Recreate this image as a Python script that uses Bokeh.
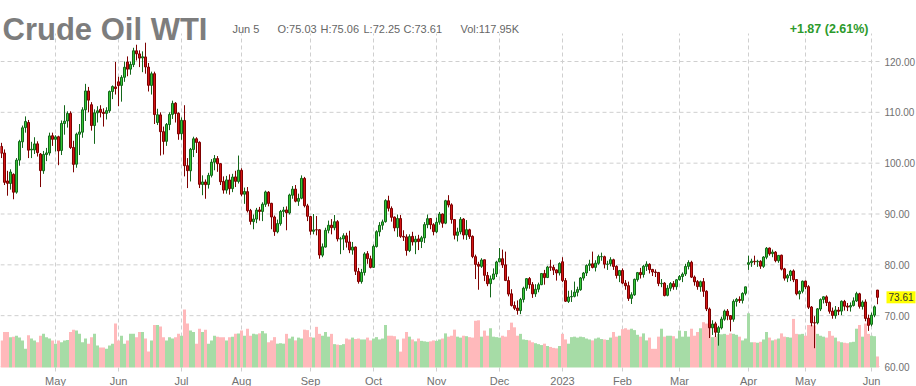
import pandas as pd
from bokeh.plotting import figure
from bokeh.models import Range1d, Label, ColumnDataSource
from bokeh.embed import file_html
from bokeh.resources import INLINE

# ---------------- data ----------------
holidays = ["2022-04-15", "2022-05-30", "2022-06-20", "2022-07-04", "2022-09-05",
            "2022-11-24", "2022-12-26", "2023-01-02", "2023-01-16", "2023-02-20",
            "2023-04-07", "2023-05-29"]

opens = [
    103.3, 102.0, 96.5, 96.0, 97.8, 94.3, 100.6, 104.2, 107.0, 108.0, 102.6, 102.6, 103.8, 101.8, 98.5, 101.7, 102.0, 105.4,
    104.7, 105.2, 102.5, 107.8, 108.3, 109.8, 103.1, 99.8, 105.7, 106.1, 110.5, 114.2, 111.5, 107.4, 109.9, 110.6, 110.0, 109.8, 110.3, 114.1, 115.0,
    116.0, 115.3, 116.9, 119.9, 118.5, 119.4, 122.1, 121.5, 120.7, 120.9, 118.9, 115.3, 117.6, 108.0, 109.5, 106.2, 104.3, 107.6, 109.6, 111.8, 109.8,
    105.8, 108.4, 99.5, 98.5, 102.7, 104.8, 104.1, 95.8, 96.3, 95.8, 97.6, 100.2, 100.9, 99.9, 96.4, 94.7, 96.7, 95.0, 97.3, 96.4,
    98.6, 93.9, 94.4, 90.7, 88.5, 89.0, 90.8, 90.5, 91.9, 94.3, 92.1, 89.4, 86.5, 88.1, 90.5, 90.8, 90.2, 93.7, 94.9, 92.5, 93.1, 97.0, 91.6,
    89.5, 86.6, 86.9, 86.9, 81.9, 83.5, 86.8, 87.8, 87.3, 88.5, 85.1, 85.1, 85.7, 84.5, 82.9, 83.5, 78.7, 76.7, 78.5, 82.2, 81.2,
    79.5, 83.6, 86.5, 87.8, 88.5, 92.6, 91.1, 89.4, 87.3, 89.1, 85.6, 85.5, 82.8, 85.6, 84.5, 85.1, 84.6, 85.3, 87.9, 89.1, 87.9,
    86.5, 88.4, 90.0, 88.2, 92.6, 91.8, 88.9, 85.8, 86.5, 89.0, 85.9, 86.9, 85.6, 81.6, 80.1, 79.7, 81.0, 77.9, 76.3, 77.2, 78.2,
    80.6, 81.2, 80.0, 76.9, 74.3, 72.0, 71.5, 71.0, 73.2, 75.4, 77.3, 76.1, 74.3, 75.2, 76.1, 78.3, 77.5, 79.6, 79.5, 79.0, 78.4,
    80.6, 76.9, 72.8, 73.7, 73.8, 74.6, 75.1, 77.4, 78.4, 79.9, 80.2, 79.5, 80.3, 81.6, 81.6, 80.1, 80.2, 81.0, 79.7, 77.9,
    78.9, 76.4, 75.9, 73.4, 74.1, 77.1, 78.5, 78.1, 79.7, 80.1, 79.1, 78.6, 78.5, 76.3, 76.4, 74.0, 75.4, 76.3, 75.7,
    77.1, 77.7, 78.2, 79.7, 80.5, 77.6, 76.7, 75.7, 76.7, 74.8, 71.3, 67.6, 68.4, 66.7, 67.6, 69.3, 70.9, 70.0, 69.3, 72.8, 73.2, 73.0, 74.4,
    80.1, 80.4, 80.7, 80.6, 80.7, 79.7, 81.5, 83.3, 82.2, 82.5, 80.8, 81.9, 79.2, 77.4, 77.9, 78.8, 77.1, 74.3, 74.8,
    76.8, 75.7, 71.7, 68.6, 68.6, 71.3, 73.2, 73.7, 72.6, 70.9, 70.0, 71.1, 70.9, 72.8, 71.9, 71.7, 72.0, 72.9, 74.3, 71.8, 72.7, 69.5,
    68.3, 70.1, 75.03,
]

highs = [
    104.0, 102.7, 98.5, 98.8, 98.0, 101.0, 104.6, 107.4, 109.2, 108.5, 104.2, 105.1, 104.3, 102.0, 102.4, 103.0, 106.0, 106.0,
    105.5, 105.4, 108.4, 111.4, 110.2, 110.2, 104.4, 106.0, 107.7, 111.0, 115.6, 115.0, 112.0, 110.6, 111.2, 111.4, 110.8, 111.0, 114.3, 115.3, 119.9,
    117.0, 117.3, 120.0, 121.0, 120.0, 122.7, 123.3, 122.2, 122.0, 123.7, 119.7, 118.0, 118.0, 110.7, 110.0, 107.2, 107.9, 110.0, 112.3, 112.0, 110.0,
    109.0, 111.4, 101.0, 103.0, 105.2, 105.1, 104.3, 97.6, 96.8, 98.1, 100.8, 101.6, 101.4, 100.0, 97.4, 97.5, 97.8, 97.9, 98.5, 101.5,
    99.0, 95.2, 95.3, 91.0, 89.9, 91.2, 91.4, 92.3, 94.6, 94.5, 92.2, 89.7, 88.9, 90.8, 91.4, 91.5, 94.0, 95.5, 95.7, 94.0, 97.6, 97.3, 92.0,
    89.6, 90.0, 89.6, 87.0, 84.2, 87.3, 88.7, 89.0, 89.8, 88.8, 85.5, 86.2, 86.3, 86.7, 84.5, 83.6, 79.4, 79.2, 82.5, 82.7, 81.8,
    84.0, 86.8, 88.4, 88.9, 92.9, 93.6, 91.5, 89.5, 89.9, 89.8, 86.8, 86.0, 86.0, 86.5, 85.7, 85.9, 85.7, 88.4, 89.9, 89.2, 88.2,
    89.3, 90.4, 90.1, 92.8, 93.7, 92.1, 89.0, 87.3, 89.4, 89.2, 88.8, 87.1, 85.8, 82.0, 80.6, 81.3, 81.0, 78.6, 77.9, 79.3, 80.8,
    83.3, 83.0, 82.6, 77.7, 75.2, 72.8, 73.0, 73.5, 75.7, 77.4, 77.6, 76.6, 76.2, 76.5, 78.4, 79.0, 79.8, 81.0, 80.0, 79.1, 80.5,
    81.5, 77.4, 74.9, 75.0, 76.7, 75.7, 77.6, 78.6, 80.1, 81.0, 82.6, 80.9, 82.0, 82.4, 81.8, 80.8, 81.5, 81.2, 79.9, 79.0,
    79.3, 77.0, 76.7, 74.6, 77.3, 78.6, 79.4, 80.0, 80.7, 80.3, 79.2, 79.1, 78.6, 77.2, 76.6, 76.0, 76.6, 76.8, 77.2,
    78.0, 78.5, 80.2, 80.9, 80.8, 77.9, 77.0, 76.9, 77.4, 75.0, 71.6, 69.1, 68.8, 68.0, 69.8, 71.2, 71.3, 70.1, 73.2, 73.5, 73.8, 74.6, 75.7,
    81.8, 81.2, 81.8, 81.0, 80.9, 81.7, 83.5, 83.4, 83.0, 82.7, 81.9, 82.0, 79.4, 78.2, 79.0, 79.1, 77.2, 75.0, 76.9,
    76.9, 76.0, 71.9, 69.9, 71.5, 73.4, 73.8, 74.0, 72.8, 71.6, 71.9, 71.7, 73.0, 73.1, 72.5, 72.6, 73.6, 74.7, 74.5, 73.0, 73.2, 70.2,
    70.6, 72.0, 75.06,
]

lows = [
    101.0, 95.7, 93.6, 94.8, 92.9, 94.0, 99.5, 103.0, 106.0, 101.0, 101.0, 101.8, 101.3, 95.3, 97.9, 100.4, 101.5, 103.4,
    102.3, 99.6, 101.6, 105.6, 107.0, 102.8, 98.2, 99.1, 101.6, 105.0, 108.3, 110.0, 106.4, 103.8, 108.0, 109.0, 107.2, 108.6, 109.9, 112.6, 113.5,
    111.2, 112.1, 116.0, 117.1, 117.4, 118.9, 120.2, 118.9, 117.9, 117.6, 114.1, 113.5, 107.7, 107.5, 101.5, 101.7, 103.4, 106.5, 108.7, 108.0, 104.6,
    104.6, 97.4, 95.1, 96.4, 101.2, 102.0, 95.1, 93.7, 93.0, 95.0, 97.2, 98.6, 98.3, 95.7, 94.0, 94.0, 93.8, 94.3, 95.3, 96.0,
    93.5, 92.0, 90.3, 87.9, 87.0, 88.2, 88.7, 88.6, 91.4, 91.5, 87.0, 85.7, 86.2, 87.7, 89.4, 86.8, 89.9, 93.0, 92.3, 91.6, 92.9, 91.3, 88.6,
    85.9, 86.0, 85.8, 81.2, 81.5, 83.4, 86.2, 86.0, 86.8, 84.6, 82.1, 82.9, 83.4, 82.3, 82.0, 78.0, 76.3, 76.3, 77.9, 80.2, 79.3,
    79.4, 83.4, 85.6, 86.9, 88.3, 90.5, 88.5, 86.6, 85.5, 85.3, 84.7, 81.8, 82.5, 83.8, 82.1, 82.9, 83.3, 84.3, 87.2, 87.0, 85.8,
    86.2, 87.9, 87.3, 88.0, 91.3, 88.1, 85.0, 84.6, 86.0, 85.0, 84.9, 85.1, 81.3, 77.2, 75.1, 79.4, 76.8, 75.8, 73.6, 77.0, 77.6,
    80.5, 79.4, 76.8, 73.8, 71.8, 71.1, 70.2, 70.3, 72.6, 74.9, 75.3, 73.5, 73.7, 74.6, 76.0, 76.1, 77.4, 78.8, 78.0, 76.9, 77.9,
    76.6, 72.7, 72.5, 72.7, 73.6, 73.8, 74.9, 76.9, 77.8, 78.8, 79.3, 78.7, 80.0, 80.8, 79.3, 79.0, 79.7, 79.0, 77.3, 76.6,
    76.2, 75.1, 72.9, 72.3, 73.9, 76.7, 77.3, 77.5, 78.8, 78.3, 77.8, 77.6, 75.8, 75.6, 73.8, 73.8, 74.8, 75.1, 75.1,
    76.9, 76.6, 77.8, 79.1, 77.4, 75.9, 75.1, 74.7, 73.7, 70.9, 65.6, 66.2, 65.8, 64.1, 67.3, 69.0, 69.1, 66.9, 68.8, 71.8, 72.5, 72.4, 74.0,
    79.0, 79.6, 80.0, 79.6, 79.2, 79.4, 81.1, 81.8, 81.5, 80.5, 80.4, 78.9, 76.9, 76.6, 76.8, 76.6, 74.0, 73.2, 74.4,
    75.2, 71.3, 67.9, 63.6, 68.3, 70.9, 72.4, 71.9, 70.4, 69.4, 69.4, 70.1, 70.1, 71.0, 70.9, 70.8, 71.8, 72.7, 71.4, 71.2, 68.9, 67.0,
    67.9, 69.7, 72.25,
]

closes = [
    101.96, 96.23, 96.03, 98.26, 94.29, 100.60, 104.25, 106.95, 108.21, 102.56, 102.75, 103.79, 102.07, 98.54, 101.70, 102.02, 105.36, 104.69,
    105.17, 102.41, 107.81, 108.26, 109.77, 103.09, 99.76, 105.71, 106.13, 110.49, 114.20, 112.40, 107.40, 109.90, 110.30, 110.00, 109.77, 110.33, 114.09, 115.07, 114.67,
    115.26, 116.87, 118.87, 118.50, 119.41, 122.11, 121.51, 120.67, 120.93, 118.93, 115.31, 117.59, 109.56, 109.52, 106.19, 104.27, 107.62, 109.57, 111.76, 109.78, 105.76,
    108.43, 99.50, 98.53, 102.73, 104.79, 104.09, 95.84, 96.30, 95.78, 97.59, 100.20, 100.90, 99.90, 96.35, 94.70, 96.70, 94.98, 97.26, 96.42, 98.62,
    93.89, 94.42, 90.66, 88.54, 89.01, 90.76, 90.50, 91.93, 94.34, 92.09, 89.41, 86.53, 88.11, 90.50, 90.77, 90.23, 93.74, 94.89, 92.52, 93.06, 97.01, 91.64, 89.55,
    86.61, 86.87, 86.88, 81.94, 83.54, 86.79, 87.78, 87.31, 88.48, 85.10, 85.11, 85.73, 84.45, 82.94, 83.49, 78.74, 76.71, 78.50, 82.15, 81.23, 79.49,
    83.63, 86.52, 87.76, 88.45, 92.64, 91.13, 89.35, 87.27, 89.11, 85.61, 85.46, 82.82, 85.55, 84.51, 85.05, 84.58, 85.32, 87.91, 89.08, 87.90, 86.53,
    88.37, 90.00, 88.17, 92.61, 91.79, 88.91, 85.83, 86.47, 88.96, 85.87, 86.92, 85.59, 81.64, 80.08, 79.73, 80.95, 77.94, 76.28, 77.24, 78.20, 80.55,
    81.22, 79.98, 76.93, 74.25, 72.01, 71.46, 71.02, 73.17, 75.39, 77.28, 76.11, 74.29, 75.19, 76.09, 78.29, 77.49, 79.56, 79.53, 78.96, 78.40, 80.26,
    76.93, 72.84, 73.67, 73.77, 74.63, 75.12, 77.41, 78.39, 79.86, 80.18, 79.48, 80.33, 81.64, 81.62, 80.13, 80.15, 81.01, 79.68, 77.90, 78.87,
    76.41, 75.88, 73.39, 74.11, 77.14, 78.47, 78.06, 79.72, 80.14, 79.06, 78.59, 78.49, 76.34, 76.36, 73.95, 75.39, 76.32, 75.68, 77.05,
    77.69, 78.16, 79.68, 80.46, 77.58, 76.66, 75.72, 76.68, 74.80, 71.33, 67.61, 68.35, 66.74, 67.64, 69.33, 70.90, 69.96, 69.26, 72.81, 73.20, 72.97, 74.37, 75.67,
    80.42, 80.71, 80.61, 80.70, 79.74, 81.53, 83.26, 82.16, 82.52, 80.83, 81.86, 79.16, 77.37, 77.87, 78.76, 77.07, 74.30, 74.76, 76.78,
    75.66, 71.66, 68.60, 68.56, 71.34, 73.16, 73.71, 72.56, 70.87, 70.04, 71.11, 70.86, 72.83, 71.86, 71.69, 71.99, 72.91, 74.34, 71.83, 72.67, 69.46, 68.09,
    70.10, 71.74, 73.61,
]

volumes_k = [
    290, 380, 380, 325, 330, 340, 320, 290, 200, 345,
    310, 290, 270, 340, 360, 325, 310, 290, 255, 290,
    270, 290, 295, 380, 405, 395, 360, 270, 310, 255,
    325, 360, 235, 215, 215, 200, 235, 255, 470, 290,
    340, 255, 290, 360, 360, 325, 380, 380, 310, 170,
    290, 455, 455, 440, 325, 290, 325, 310, 325, 360,
    340, 620, 470, 395, 380, 255, 415, 380, 405, 255,
    290, 340, 330, 325, 325, 290, 325, 330, 360, 365,
    395, 340, 415, 340, 360, 355, 365, 390, 365, 270,
    290, 325, 255, 260, 255, 360, 310, 330, 290, 320,
    310, 405, 400, 325, 320, 435, 360, 340, 380, 330,
    360, 250, 245, 240, 250, 310, 300, 320, 305, 310,
    300, 300, 320, 290, 310, 325, 300, 310, 455, 340,
    340, 335, 300, 170, 310, 380, 330, 300, 280, 310,
    285, 280, 275, 280, 290, 285, 300, 310, 365, 330,
    340, 405, 330, 320, 340, 335, 325, 320, 500, 505,
    330, 395, 340, 420, 330, 325, 320, 340, 330, 400,
    480, 430, 340, 360, 300, 295, 290, 270, 260, 250,
    240, 255, 230, 220, 210, 205, 230, 360, 300, 255,
    325, 330, 320, 330, 325, 310, 300, 290, 310, 320,
    305, 300, 295, 320, 380, 330, 340, 410, 420, 405,
    415, 400, 350, 330, 365, 290, 320, 200, 200, 330,
    415, 330, 340, 340, 335, 310, 395, 330, 390, 330,
    415, 340, 380, 420, 485, 470, 470, 325, 330, 360,
    355, 360, 350, 365, 360, 350, 330, 290, 310, 580,
    270, 270, 265, 275, 300, 380, 320, 290, 300, 310,
    365, 330, 325, 320, 520, 360, 355, 360, 340, 455,
    455, 450, 360, 340, 330, 320, 390, 340, 320, 280,
    270, 265, 260, 270, 275, 415, 455, 330, 470, 360,
    340, 335, 118,
]

price_ticks = [60, 70, 80, 90, 100, 110, 120]
last_price = 73.61
header_date = "Jun 5"
header_items = ["O:75.03", "H:75.06", "L:72.25", "C:73.61"]
header_vol = "Vol:117.95K"
header_change = "+1.87 (2.61%)"
title_text = "Crude Oil WTI"

# ---------------- derived ----------------
dates = [d for d in pd.bdate_range("2022-04-05", "2023-06-05")
         if d.strftime("%Y-%m-%d") not in holidays]
n = min(len(dates), len(opens), len(highs), len(lows), len(closes), len(volumes_k))
dates = dates[:n]
xs = list(range(n))
up = [closes[i] >= opens[i] for i in range(n)]

UP_FILL, UP_LINE = "#35c735", "#14671a"
DN_FILL, DN_LINE = "#d41414", "#7d0000"
VOL_UP, VOL_DN = "#a6dca6", "#ffb9bb"
GRID = "#cfcfcf"
TXT = "#707070"
FONT = "Liberation Sans"

src = ColumnDataSource(dict(
    x=xs,
    o=opens[:n], h=highs[:n], l=lows[:n], c=closes[:n],
    top=[max(opens[i], closes[i]) for i in range(n)],
    bot=[min(opens[i], closes[i]) for i in range(n)],
    fill=[UP_FILL if u else DN_FILL for u in up],
    line=[UP_LINE if u else DN_LINE for u in up],
    vol=volumes_k[:n],
    vcol=[VOL_UP if u else VOL_DN for u in up],
))

month_ticks, month_names = [], []
for i in range(1, n):
    if dates[i].month != dates[i - 1].month:
        month_ticks.append(i)
        month_names.append("2023" if dates[i].month == 1 else dates[i].strftime("%b"))

# ---------------- figure (frame = whole canvas) ----------------
W, H = 916, 386
KX = 3.0                      # px per trading day
X0 = -1.0 / 3.0
KY = 305.0 / 60.0             # px per dollar
P_AT_61 = 120.0               # price at page y = 61


def dx(px):
    return X0 + px / KX


def dy(py):
    return P_AT_61 - (py - 61.0) / KY


p = figure(width=W, height=H, x_range=Range1d(dx(0), dx(W)),
           y_range=Range1d(dy(H), dy(0)),
           x_axis_location=None, y_axis_location=None,
           output_backend="svg", toolbar_location=None, tools="",
           min_border=0, min_border_left=0, min_border_right=0,
           min_border_top=0, min_border_bottom=0)
p.outline_line_color = None
p.background_fill_color = "white"
p.border_fill_color = "white"
p.xgrid.visible = False
p.ygrid.visible = False

# volume scale: baseline at page y 367, ~10.7K per pixel
VOL_PER_PX = 10.7
p.extra_y_ranges = {"vol": Range1d((367 - H) * VOL_PER_PX, 367 * VOL_PER_PX)}

# grid lines (dashed), limited to the plot area
PLOT_RIGHT, PLOT_TOP, PLOT_BOTTOM = dx(880), dy(33), dy(371)
p.segment(x0=[dx(0)] * len(price_ticks), x1=[PLOT_RIGHT] * len(price_ticks),
          y0=price_ticks, y1=price_ticks,
          line_color=GRID, line_dash="4 3", line_width=1)
p.segment(x0=month_ticks, x1=month_ticks,
          y0=[PLOT_BOTTOM] * len(month_ticks), y1=[PLOT_TOP] * len(month_ticks),
          line_color=GRID, line_dash="4 3", line_width=1)

# volume bars
p.vbar(x="x", top="vol", bottom=0, width=1.0, source=src, y_range_name="vol",
       fill_color="vcol", line_color=None)

# candles
p.segment(x0="x", y0="h", x1="x", y1="l", source=src, line_color="line", line_width=1)
p.vbar(x="x", top="top", bottom="bot", width=0.67, source=src,
       fill_color="fill", line_color="line", line_width=1)

# ---------------- texts ----------------
p.add_layout(Label(x=dx(2), y=dy(28.5), text=title_text, text_font=FONT,
                   text_font_size="31px", text_font_style="bold",
                   text_color="#7d7d7d", text_baseline="alphabetic"))

p.add_layout(Label(x=dx(232), y=dy(28), text=header_date, text_font=FONT,
                   text_font_size="11px", text_color="#666666",
                   text_baseline="alphabetic"))
for item, px in zip(header_items, [277, 320, 363, 403]):
    p.add_layout(Label(x=dx(px), y=dy(28), text=item, text_font=FONT,
                       text_font_size="11px", text_color="#666666",
                       text_baseline="alphabetic"))
p.add_layout(Label(x=dx(460), y=dy(28), text=header_vol, text_font=FONT,
                   text_font_size="11px", text_color="#666666",
                   text_baseline="alphabetic"))
p.add_layout(Label(x=dx(868), y=dy(28), text=header_change, text_font=FONT,
                   text_font_size="12.5px", text_font_style="bold",
                   text_color="#2c9a2c", text_align="right",
                   text_baseline="alphabetic"))

for t in price_ticks:
    p.add_layout(Label(x=dx(884), y=t, text=f"{t:.2f}", text_font=FONT,
                       text_font_size="10px", text_color=TXT,
                       text_baseline="middle", text_align="left"))

p.add_layout(Label(x=dx(886), y=last_price, text=f"{last_price:.2f}", text_font=FONT,
                   text_font_size="10px", text_color="#333333",
                   text_baseline="middle", text_align="left",
                   background_fill_color="#ffff00", padding=2))

for t, name in zip(month_ticks, month_names):
    p.add_layout(Label(x=t, y=dy(380), text=name, text_font=FONT,
                       text_font_size="11px", text_color=TXT,
                       text_baseline="middle", text_align="center"))

open("out.html", "w").write(file_html(p, INLINE))
